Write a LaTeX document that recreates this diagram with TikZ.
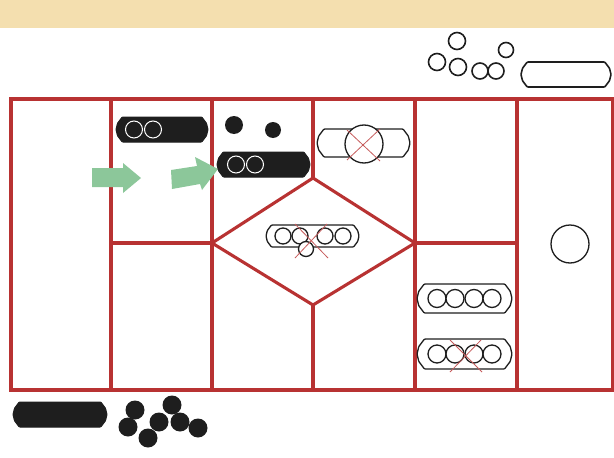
\documentclass[tikz,border=0pt]{standalone}
\definecolor{bannerc}{HTML}{F4DFAF}
\definecolor{gridred}{HTML}{B83232}
\definecolor{arrowgreen}{HTML}{8CC79A}
\definecolor{inkc}{HTML}{1E1E1E}
\tikzset{
  gridline/.style={draw=gridred, line width=3.1pt},
  outl/.style={draw=inkc, line width=1.3pt, fill=white},
  blackpill/.style={draw=inkc, line width=1pt, fill=inkc},
  whitering/.style={draw=white, line width=1pt},
  dot/.style={fill=inkc},
  cross/.style={draw=gridred!80!white, line width=0.8pt},
  greenarrow/.style={fill=arrowgreen}
}
% #1 style, #2 x1, #3 y1, #4 x2, #5 y2
\newcommand{\drawpill}[5]{%
  \path[#1, rounded corners=0.8pt]
    ({#2+0.25*(#5-#3)},#3) -- ({#4-0.25*(#5-#3)},#3)
    -- ({#4-0.06*(#5-#3)},{#3+0.25*(#5-#3)}) -- (#4,{0.5*(#3+#5)})
    -- ({#4-0.06*(#5-#3)},{#5-0.25*(#5-#3)}) -- ({#4-0.25*(#5-#3)},#5)
    -- ({#2+0.25*(#5-#3)},#5)
    -- ({#2+0.06*(#5-#3)},{#5-0.25*(#5-#3)}) -- (#2,{0.5*(#3+#5)})
    -- ({#2+0.06*(#5-#3)},{#3+0.25*(#5-#3)}) -- cycle;}
\begin{document}
\begin{tikzpicture}[x=1pt,y=-1pt]
\useasboundingbox (0,0) rectangle (614,458);
% banner
\fill[bannerc] (0,0) rectangle (614,28);

% top-right group
\begin{scope}[outl/.append style={line width=1.6pt}]
\draw[outl] (457,41) circle[radius=8.5pt];
\draw[outl] (506,50) circle[radius=7.5pt];
\draw[outl] (437,62) circle[radius=8.5pt];
\draw[outl] (458,67) circle[radius=8.5pt];
\draw[outl] (480,71) circle[radius=8pt];
\draw[outl] (496,71) circle[radius=8pt];
\drawpill{outl}{521}{62}{611}{87}
\end{scope}

% grid
\draw[gridline] (11,99) rectangle (612.5,390);
\draw[gridline] (111,97) -- (111,390);
\draw[gridline] (212,99) -- (212,390);
\draw[gridline] (415,97) -- (415,390);
\draw[gridline] (517,99) -- (517,390);
\draw[gridline] (313,99) -- (313,178);
\draw[gridline] (313,305) -- (313,390);
\draw[gridline] (111,243) -- (212,243);
\draw[gridline] (415,243) -- (517,243);
\draw[gridline, line join=miter] (212,243) -- (313,178) -- (415,243) -- (313,305) -- cycle;

% column 2
\drawpill{blackpill}{116}{117}{208}{142}
\draw[whitering] (134,129.5) circle[radius=8.5pt];
\draw[whitering] (153,129.5) circle[radius=8.5pt];
\fill[greenarrow] (92,168) -- (123,168) -- (123,163) -- (141,178) -- (123,193) -- (123,187) -- (92,187) -- cycle;
\fill[greenarrow] (171,170) -- (197,166) -- (195,157) -- (218,169) -- (202,190) -- (200,184) -- (172,189) -- cycle;

% column 3
\fill[dot] (234,125) circle[radius=9pt];
\fill[dot] (273,130) circle[radius=8pt];
\drawpill{blackpill}{217}{152}{310}{177}
\draw[whitering] (236,164.5) circle[radius=8.5pt];
\draw[whitering] (255,164.5) circle[radius=8.5pt];

% diamond contents
\drawpill{outl}{266}{225}{359}{247}
\draw[outl] (283,236) circle[radius=8pt];
\draw[outl] (300,236) circle[radius=8pt];
\draw[outl] (325,236) circle[radius=8pt];
\draw[outl] (343,236) circle[radius=8pt];
\draw[outl] (306,249) circle[radius=7.5pt];
\draw[cross] (295,224) -- (328,258);
\draw[cross] (327,224) -- (295,258);

% column 4
\drawpill{outl}{317}{129}{410}{157}
\draw[outl] (364,144) circle[radius=19pt];
\draw[cross] (347,130) -- (380,161);
\draw[cross] (380,129) -- (347,160);

% column 5
\drawpill{outl}{417}{284}{512}{313}
\foreach \cx in {437,455,474,492} {\draw[outl] (\cx,298.5) circle[radius=9pt];}
\drawpill{outl}{417}{339}{512}{369}
\foreach \cx in {437,455,474,492} {\draw[outl] (\cx,354) circle[radius=9pt];}
\draw[cross] (450,340) -- (482,372);
\draw[cross] (481,340) -- (450,372);

% column 6
\draw[outl] (570,244) circle[radius=19pt];

% bottom
\drawpill{blackpill}{13}{402}{107}{427}
\foreach \p in {(135,410),(128,427),(148,438),(159,422),(172,405),(180,422),(198,428)} {\fill[dot] \p circle[radius=9.5pt];}
\end{tikzpicture}
\end{document}
